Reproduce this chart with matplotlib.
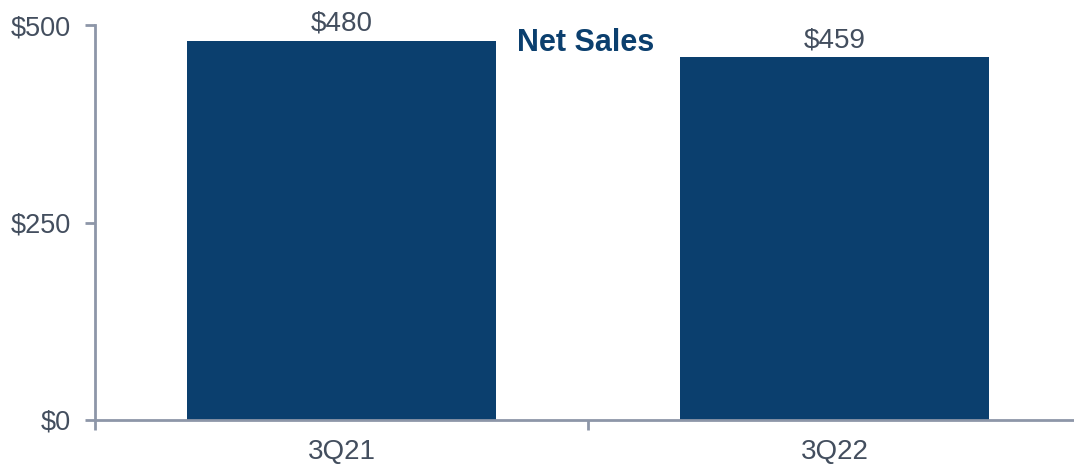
import matplotlib.pyplot as plt

plt.rcParams['font.family'] = ['Liberation Sans', 'DejaVu Sans']

# Data
quarters = ['3Q21', '3Q22']
net_sales = [480, 459]
y_ticks = [0, 250, 500]

bar_color = '#0B3F6E'
axis_color = '#8D96A8'
text_color = '#434E5E'

fig = plt.figure(figsize=(10.74, 4.66), dpi=100)
ax = fig.add_axes([95 / 1074, 1 - 420 / 466, 986 / 1074, 395 / 466])

x = range(len(quarters))
bars = ax.bar(x, net_sales, width=0.625, color=bar_color, zorder=2)

for xi, v in zip(x, net_sales):
    ax.text(xi, v + 5, '${}'.format(v), ha='center', va='bottom',
            fontsize=20, color=text_color)

ax.set_xlim(-0.5, 1.5)
ax.set_ylim(0, 500)
ax.set_yticks(y_ticks)
ax.set_yticklabels(['${}'.format(t) for t in y_ticks])
ax.set_xticks([-0.5, 0.5, 1.5])
ax.set_xticklabels([])
ax.set_xticks(list(x), minor=True)
ax.set_xticklabels(quarters, minor=True)
ax.tick_params(axis='x', which='minor', length=0, labelsize=20,
               labelcolor=text_color, pad=14)
ax.tick_params(axis='x', which='major', length=7, width=2, color=axis_color)
ax.tick_params(axis='y', length=7, width=2, color=axis_color,
               labelsize=19.5, labelcolor=text_color, pad=10.5)

for side in ['top', 'right']:
    ax.spines[side].set_visible(False)
for side in ['left', 'bottom']:
    ax.spines[side].set_color(axis_color)
    ax.spines[side].set_linewidth(2)

fig.text(586 / 1074, 1 - 43 / 466, 'Net Sales', ha='center', va='center',
         fontsize=22, fontweight='bold', color=bar_color)

fig.savefig('out.png', dpi=100)
